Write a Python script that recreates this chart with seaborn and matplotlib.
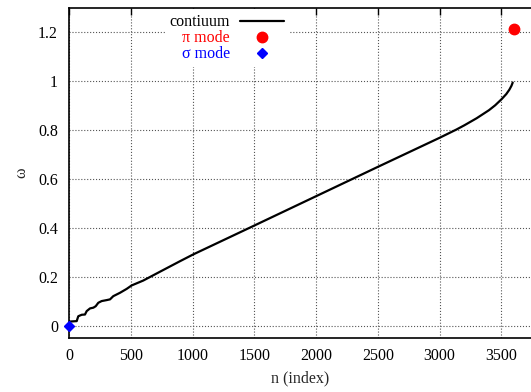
import matplotlib
matplotlib.use('Agg')
import matplotlib.pyplot as plt
import numpy as np
import pandas as pd
import seaborn as sns

# continuum curve
n_cont = [0, 62, 75, 103, 129, 143, 170, 197, 216, 237, 264, 305, 332, 358,
          413, 467, 507, 601, 736, 898, 1006, 1500, 2000, 2500, 3000, 3137,
          3200, 3300, 3400, 3450, 3500, 3540, 3565, 3582, 3592]
w_cont = [0.017, 0.019, 0.039, 0.045, 0.046, 0.060, 0.071, 0.074, 0.080, 0.094,
          0.101, 0.105, 0.108, 0.121, 0.135, 0.151, 0.165, 0.185, 0.221, 0.264,
          0.292, 0.410, 0.530, 0.650, 0.769, 0.803, 0.820, 0.849, 0.882, 0.902,
          0.926, 0.948, 0.966, 0.982, 0.995]

# discrete modes
n_pi = [3600]
w_pi = [1.215]
n_sigma = [0]
w_sigma = [0.0]

labels = ["contiuum", "\u03c0 mode", "\u03c3 mode"]
xticks = [0, 500, 1000, 1500, 2000, 2500, 3000, 3500]
yticks = [0, 0.2, 0.4, 0.6, 0.8, 1, 1.2]
yticklabels = ["0", "0.2", "0.4", "0.6", "0.8", "1", "1.2"]

sns.set_style("white")
plt.rcParams['font.family'] = ['Liberation Serif', 'DejaVu Serif']

fig = plt.figure(figsize=(5.31, 3.92), dpi=100)
ax = fig.add_axes([0.13, 0.1378, 0.87, 0.8418])

df = pd.DataFrame({"n": n_cont, "w": w_cont})
sns.lineplot(data=df, x="n", y="w", ax=ax, color="black", linewidth=1.6,
             sort=False, label=labels[0], zorder=3)
ax.plot(n_pi, w_pi, linestyle="none", marker="o", color="red",
        markersize=7.5, label=labels[1], clip_on=False, zorder=4)
ax.plot(n_sigma, w_sigma, linestyle="none", marker="D", color="blue",
        markersize=5.5, label=labels[2], clip_on=False, zorder=4)

ax.set_xlim(0, 3740)
ax.set_ylim(-0.05, 1.3)
ax.set_xticks(xticks)
ax.set_yticks(yticks)
ax.set_yticklabels(yticklabels)
ax.tick_params(direction="in", length=5, width=1, labelsize=11.5,
               top=True, right=False, colors="black")
ax.tick_params(axis="x", pad=7)
ax.tick_params(axis="y", pad=8)
ax.grid(True, linestyle=":", color="#555555", linewidth=0.8)
ax.set_axisbelow(True)
for s in ["left", "bottom", "top"]:
    ax.spines[s].set_color("black")
    ax.spines[s].set_linewidth(1.2)
ax.spines["right"].set_visible(False)

ax.set_xlabel("n (index)", fontsize=11.5, labelpad=5)
ax.set_ylabel("\u03c9", fontsize=11.5, labelpad=6)

leg = ax.legend(loc="upper left", bbox_to_anchor=(0.19, 1.02), markerfirst=False,
                frameon=True, fontsize=11.5, labelspacing=0.0,
                handlelength=2.8, handletextpad=0.6, borderpad=0.3,
                labelcolor=["black", "red", "blue"])
leg.get_frame().set_edgecolor("none")
leg.get_frame().set_facecolor("white")
leg.get_frame().set_alpha(1.0)
leg.get_frame().set_boxstyle("square", pad=0)
for t in leg.get_texts():
    t.set_ha("right")
leg._legend_box.align = "right"

fig.savefig("out.png", dpi=100)
